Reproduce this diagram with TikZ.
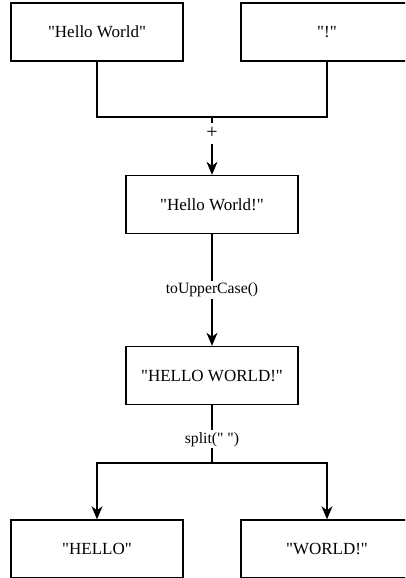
\documentclass[tikz,border=0pt]{standalone}
\usepackage{fontspec}
\setmainfont{Liberation Serif}
\usetikzlibrary{arrows.meta}
\newcommand{\dq}{\textquotedbl}
\begin{document}
\begin{tikzpicture}[x=1pt,y=1pt,
  box/.style={draw, line width=1.4pt, minimum width=172pt, minimum height=58pt, inner sep=0pt, font=\fontsize{17}{20}\selectfont},
  conn/.style={line width=1.4pt},
  arr/.style={line width=1.4pt, -{Stealth[length=13pt,width=11pt,inset=4pt]}},
  lbl/.style={fill=white, inner sep=2pt, font=\fontsize{15.7}{18}\selectfont}]
\useasboundingbox (0,0) rectangle (405,-578);
\clip (0,0) rectangle (405,-578);
\node[box] (hw) at (97,-32) {\dq Hello World\dq};
\node[box] (bang) at (327,-32) {\dq!\dq};
\node[box] (mid) at (212,-204.5) {\dq Hello World!\dq};
\node[box] (up) at (212,-375.5) {\dq HELLO WORLD!\dq};
\node[box] (hello) at (97,-549) {\dq HELLO\dq};
\node[box] (world) at (327,-549) {\dq WORLD!\dq};
\coordinate (j1) at (212,-117);
\coordinate (j2) at (212,-463);
\draw[conn] (hw.south) |- (j1) -| (bang.south);
\draw[arr] (j1) -- node[lbl, pos=0.28, inner sep=5pt, font=\fontsize{20}{22}\selectfont] {+} (mid.north);
\draw[arr] (mid.south) -- node[lbl, pos=0.5] {toUpperCase()} (up.north);
\draw[conn] (up.south) -- node[lbl, pos=0.59] {split(\dq{} \dq)} (j2);
\draw[arr] (j2) -| (hello.north);
\draw[arr] (j2) -| (world.north);
\end{tikzpicture}
\end{document}
